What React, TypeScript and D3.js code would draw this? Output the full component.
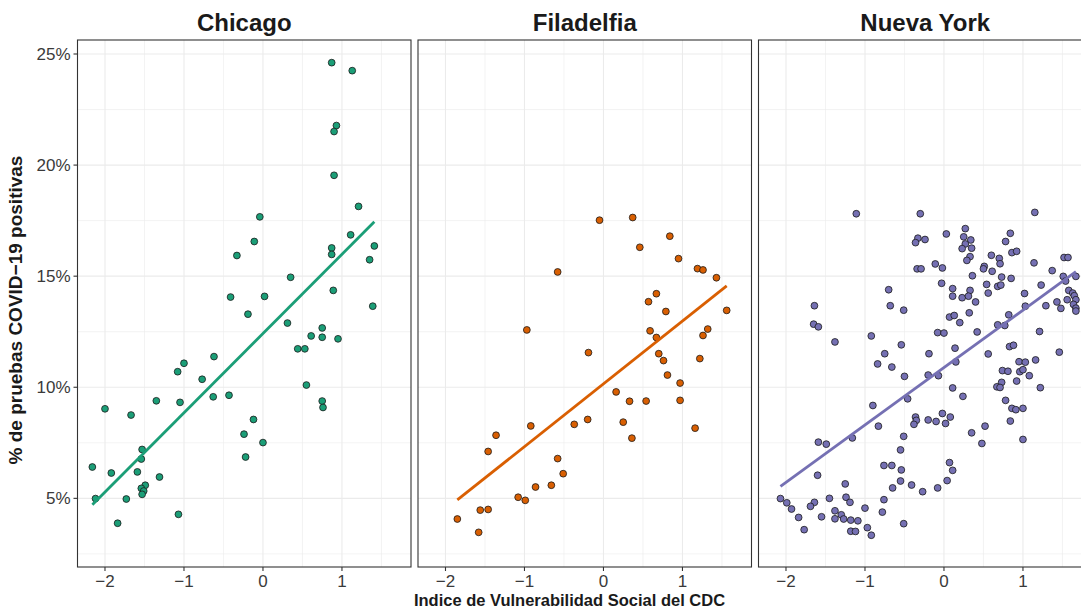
import React from "react"
import * as d3 from "d3"

// facet labels and Dark2 colours
const cities = ["Chicago", "Filadelfia", "Nueva York"]
const cityColors = ["#1b9e77", "#d95f02", "#7570b3"]

const xTicks = [-2, -1, 0, 1]
const xMinor = [-1.5, -0.5, 0.5, 1.5]
const yTicks = [5, 10, 15, 20, 25]
const yMinor = [2.5, 7.5, 12.5, 17.5, 22.5]
const xDomain = [-2.348, 1.874]
const yDomain = [1.91, 25.63]

// [SVI, % positive]
const chicago = [
  [0.87, 24.61], [1.13, 24.25], [0.93, 21.78], [0.9, 21.51], [0.9, 19.54], [1.21, 18.14],
  [-0.04, 17.67], [-0.11, 16.56], [-0.33, 15.93], [1.11, 16.86], [1.41, 16.36], [0.87, 16.27],
  [0.87, 15.98], [1.35, 15.74], [0.35, 14.95], [0.89, 14.36], [-0.41, 14.06], [0.02, 14.09],
  [-0.19, 13.29], [1.39, 13.65], [0.31, 12.89], [0.75, 12.67], [0.61, 12.31], [0.75, 12.25],
  [0.95, 12.18], [0.44, 11.73], [0.53, 11.73], [-0.62, 11.38], [-1.0, 11.08], [-1.08, 10.7],
  [-0.77, 10.36], [0.55, 10.1], [-1.35, 9.39], [-1.05, 9.32], [-0.63, 9.57], [-0.43, 9.64],
  [0.75, 9.38], [0.76, 9.09], [-2.0, 9.03], [-1.67, 8.75], [-0.12, 8.55], [-0.24, 7.89],
  [0.0, 7.51], [-1.53, 7.2], [-1.54, 6.77], [-0.22, 6.86], [-2.16, 6.41], [-1.92, 6.14],
  [-1.59, 6.19], [-1.31, 5.96], [-1.49, 5.59], [-1.54, 5.45], [-1.51, 5.33], [-1.53, 5.18],
  [-2.12, 4.99], [-1.73, 4.97], [-1.07, 4.28], [-1.84, 3.88],
]

const filadelfia = [
  [-0.05, 17.52], [0.37, 17.64], [0.84, 16.8], [0.46, 16.3], [0.95, 15.79], [-0.58, 15.19],
  [1.19, 15.34], [1.26, 15.28], [1.43, 14.93], [0.67, 14.21], [0.57, 13.85], [0.79, 13.41],
  [1.56, 13.46], [-0.97, 12.58], [0.59, 12.54], [0.67, 12.24], [1.32, 12.62], [1.26, 12.33],
  [-0.19, 11.56], [0.7, 11.51], [0.76, 11.2], [1.22, 11.29], [0.81, 10.55], [0.97, 10.19],
  [0.16, 9.79], [0.33, 9.37], [0.54, 9.38], [0.97, 9.41], [0.25, 8.43], [-0.37, 8.33],
  [-0.2, 8.55], [-0.92, 8.26], [0.36, 7.71], [1.16, 8.16], [-1.36, 7.84], [-1.46, 7.11],
  [-0.58, 6.79], [-0.51, 6.11], [-0.86, 5.51], [-0.66, 5.59], [-1.08, 5.05], [-0.99, 4.91],
  [-1.56, 4.47], [-1.46, 4.5], [-1.85, 4.07], [-1.58, 3.47],
]

const nuevaYork = [
  [-1.11, 17.81], [-0.3, 17.81], [1.15, 17.87], [0.27, 17.14], [0.03, 16.9], [0.84, 16.93],
  [-0.33, 16.71], [-0.36, 16.51], [-0.24, 16.65], [0.25, 16.77], [0.34, 16.63], [0.27, 16.45],
  [0.23, 16.24], [0.35, 16.26], [0.78, 16.56], [0.33, 15.88], [0.29, 15.71], [0.86, 16.06],
  [0.92, 16.12], [0.6, 15.94], [0.7, 15.8], [0.71, 15.56], [1.14, 15.6], [1.52, 15.84],
  [1.57, 15.84], [-0.11, 15.55], [-0.02, 15.37], [-0.34, 15.33], [-0.29, 15.33], [0.51, 15.44],
  [0.5, 15.33], [0.61, 15.22], [1.37, 15.25], [0.36, 15.02], [0.73, 14.96], [0.85, 14.9],
  [1.51, 14.99], [1.67, 14.99], [1.54, 14.78], [-0.03, 14.68], [0.54, 14.63], [0.68, 14.54],
  [0.72, 14.6], [1.23, 14.6], [0.11, 14.44], [0.33, 14.36], [-0.7, 14.39], [0.56, 14.24],
  [1.58, 14.36], [1.63, 14.24], [1.02, 14.22], [0.11, 14.1], [0.23, 14.03], [0.31, 14.1],
  [1.65, 14.12], [1.67, 13.94], [1.56, 13.94], [1.43, 13.84], [0.4, 13.84], [-1.64, 13.67],
  [-0.68, 13.67], [-0.51, 13.47], [1.03, 13.65], [1.29, 13.67], [1.48, 13.55], [1.64, 13.73],
  [1.67, 13.56], [1.67, 13.43], [0.32, 13.35], [0.82, 13.26], [0.07, 13.16], [0.13, 13.23],
  [0.2, 12.91], [-1.65, 12.84], [-1.59, 12.72], [0.68, 12.81], [0.77, 12.78], [-0.08, 12.46],
  [0.0, 12.44], [0.42, 12.49], [1.21, 12.51], [-1.38, 12.04], [-0.92, 12.31], [-0.54, 11.91],
  [0.14, 11.76], [0.83, 11.83], [0.88, 11.89], [-0.75, 11.51], [-0.19, 11.51], [0.56, 11.5],
  [1.46, 11.58], [-0.84, 11.05], [-0.66, 10.91], [0.15, 11.14], [0.95, 11.15], [1.03, 11.13],
  [1.16, 11.23], [-0.5, 10.49], [-0.2, 10.55], [-0.07, 10.52], [0.74, 10.75], [0.81, 10.72],
  [0.96, 10.7], [1.0, 10.79], [1.08, 10.52], [0.92, 10.28], [0.73, 10.22], [0.67, 10.02],
  [0.71, 9.99], [0.11, 9.97], [0.24, 9.59], [-0.46, 9.48], [-0.9, 9.18], [-0.83, 8.25],
  [-1.16, 7.72], [-1.59, 7.53], [-1.49, 7.44], [-0.36, 8.66], [-0.35, 8.51], [-0.38, 8.33],
  [-0.2, 8.53], [-0.1, 8.46], [-0.02, 8.82], [0.02, 8.37], [0.08, 8.66], [0.35, 7.95],
  [0.52, 8.25], [0.48, 7.47], [0.78, 9.41], [0.86, 9.05], [0.91, 8.99], [1.0, 9.05],
  [0.84, 8.48], [1.0, 7.65], [1.22, 9.98], [-0.51, 7.79], [-0.55, 7.18], [-0.76, 6.48],
  [-0.66, 6.48], [-0.54, 6.28], [-0.65, 5.47], [-0.55, 5.78], [-0.41, 5.6], [-0.27, 5.3],
  [-0.08, 5.47], [0.04, 5.8], [0.07, 6.61], [0.11, 6.26], [-0.76, 4.94], [-0.78, 4.38],
  [-0.51, 3.86], [-1.6, 6.04], [-1.25, 5.65], [-1.24, 5.05], [-1.19, 4.82], [-1.45, 5.0],
  [-1.64, 4.82], [-1.69, 4.64], [-1.55, 4.17], [-2.07, 4.99], [-1.99, 4.8], [-1.93, 4.52],
  [-1.84, 4.14], [-1.77, 3.59], [-1.38, 4.44], [-1.38, 4.08], [-1.3, 4.26], [-1.27, 4.07],
  [-1.18, 4.02], [-1.09, 3.99], [-1.0, 4.56], [-1.18, 3.52], [-1.12, 3.51], [-0.97, 3.68],
  [-0.92, 3.34],
]

const cityData = [chicago, filadelfia, nuevaYork]

// least squares line over the data's x range, like geom_smooth(method = "lm")
const fitLine = (pts) => {
  const mx = d3.mean(pts, d => d[0])
  const my = d3.mean(pts, d => d[1])
  const sxy = d3.sum(pts, d => (d[0] - mx) * (d[1] - my))
  const sxx = d3.sum(pts, d => (d[0] - mx) ** 2)
  const b = sxy / sxx
  const a = my - b * mx
  const [x0, x1] = d3.extent(pts, d => d[0])
  return [[x0, a + b * x0], [x1, a + b * x1]]
}

const W = 1081
const H = 611
const panelLeft = 77.5
const panelWidth = 333.5
const panelGap = 7
const panelTop = 40
const panelBottom = 567
const font = "'Liberation Sans', Arial, Helvetica, sans-serif"
const minus = (v) => (v < 0 ? "\u2212" + Math.abs(v) : String(v))

const App = () => {
  const y = d3.scaleLinear().domain(yDomain).range([panelBottom, panelTop])
  const line = d3.line()

  return (
    <svg width={W} height={H} style={{ position: "absolute", left: 0, top: 0, background: "#fff" }} fontFamily={font}>
      <defs>
        {cities.map((c, i) => (
          <clipPath id={`clip${i}`} key={c}>
            <rect x={panelLeft + i * (panelWidth + panelGap)} y={panelTop} width={panelWidth} height={panelBottom - panelTop} />
          </clipPath>
        ))}
      </defs>

      {cities.map((city, i) => {
        const left = panelLeft + i * (panelWidth + panelGap)
        const x = d3.scaleLinear().domain(xDomain).range([left, left + panelWidth])
        const pts = cityData[i]
        const fit = fitLine(pts)
        return (
          <g key={city}>
            <rect x={left} y={panelTop} width={panelWidth} height={panelBottom - panelTop} fill="#fff" />
            <g clipPath={`url(#clip${i})`}>
              {yMinor.map(t => (
                <line key={"ym" + t} x1={left} x2={left + panelWidth} y1={y(t)} y2={y(t)} stroke="#ebebeb" strokeWidth={0.6} />
              ))}
              {xMinor.map(t => (
                <line key={"xm" + t} x1={x(t)} x2={x(t)} y1={panelTop} y2={panelBottom} stroke="#ebebeb" strokeWidth={0.6} />
              ))}
              {yTicks.map(t => (
                <line key={"y" + t} x1={left} x2={left + panelWidth} y1={y(t)} y2={y(t)} stroke="#ebebeb" strokeWidth={1.1} />
              ))}
              {xTicks.map(t => (
                <line key={"x" + t} x1={x(t)} x2={x(t)} y1={panelTop} y2={panelBottom} stroke="#ebebeb" strokeWidth={1.1} />
              ))}
              {pts.map((d, j) => (
                <circle key={j} cx={x(d[0])} cy={y(d[1])} r={3.4} fill={cityColors[i]} stroke="#1a1a1a" strokeWidth={0.8} />
              ))}
              <path d={line(fit.map(d => [x(d[0]), y(d[1])]))} stroke={cityColors[i]} strokeWidth={2.8} fill="none" />
            </g>
            <rect x={left} y={panelTop} width={panelWidth} height={panelBottom - panelTop} fill="none" stroke="#333" strokeWidth={1.1} />

            {/* facet label */}
            <text x={left + panelWidth / 2} y={31} textAnchor="middle" fontSize={24} fontWeight="bold" fill="#1a1a1a">
              {city}
            </text>

            {/* x axis */}
            {xTicks.map(t => (
              <g key={"xt" + t}>
                <line x1={x(t)} x2={x(t)} y1={panelBottom} y2={panelBottom + 4} stroke="#333" strokeWidth={1.1} />
                <text x={x(t)} y={panelBottom + 20} textAnchor="middle" fontSize={17} fill="#3a3a3a">
                  {minus(t)}
                </text>
              </g>
            ))}
          </g>
        )
      })}

      {/* y axis, first panel only */}
      {yTicks.map(t => (
        <g key={"yt" + t}>
          <line x1={panelLeft - 4} x2={panelLeft} y1={y(t)} y2={y(t)} stroke="#333" strokeWidth={1.1} />
          <text x={panelLeft - 7} y={y(t)} dy="0.35em" textAnchor="end" fontSize={17} fill="#3a3a3a">
            {t}%
          </text>
        </g>
      ))}

      <text x={569.5} y={606} textAnchor="middle" fontSize={16.5} fontWeight="bold" fill="#1a1a1a">
        Indice de Vulnerabilidad Social del CDC
      </text>
      <text transform="translate(22, 310) rotate(-90)" textAnchor="middle" fontSize={19} fontWeight="bold" fill="#1a1a1a">
        % de pruebas COVID{"\u2212"}19 positivas
      </text>
    </svg>
  )
}

export default App
